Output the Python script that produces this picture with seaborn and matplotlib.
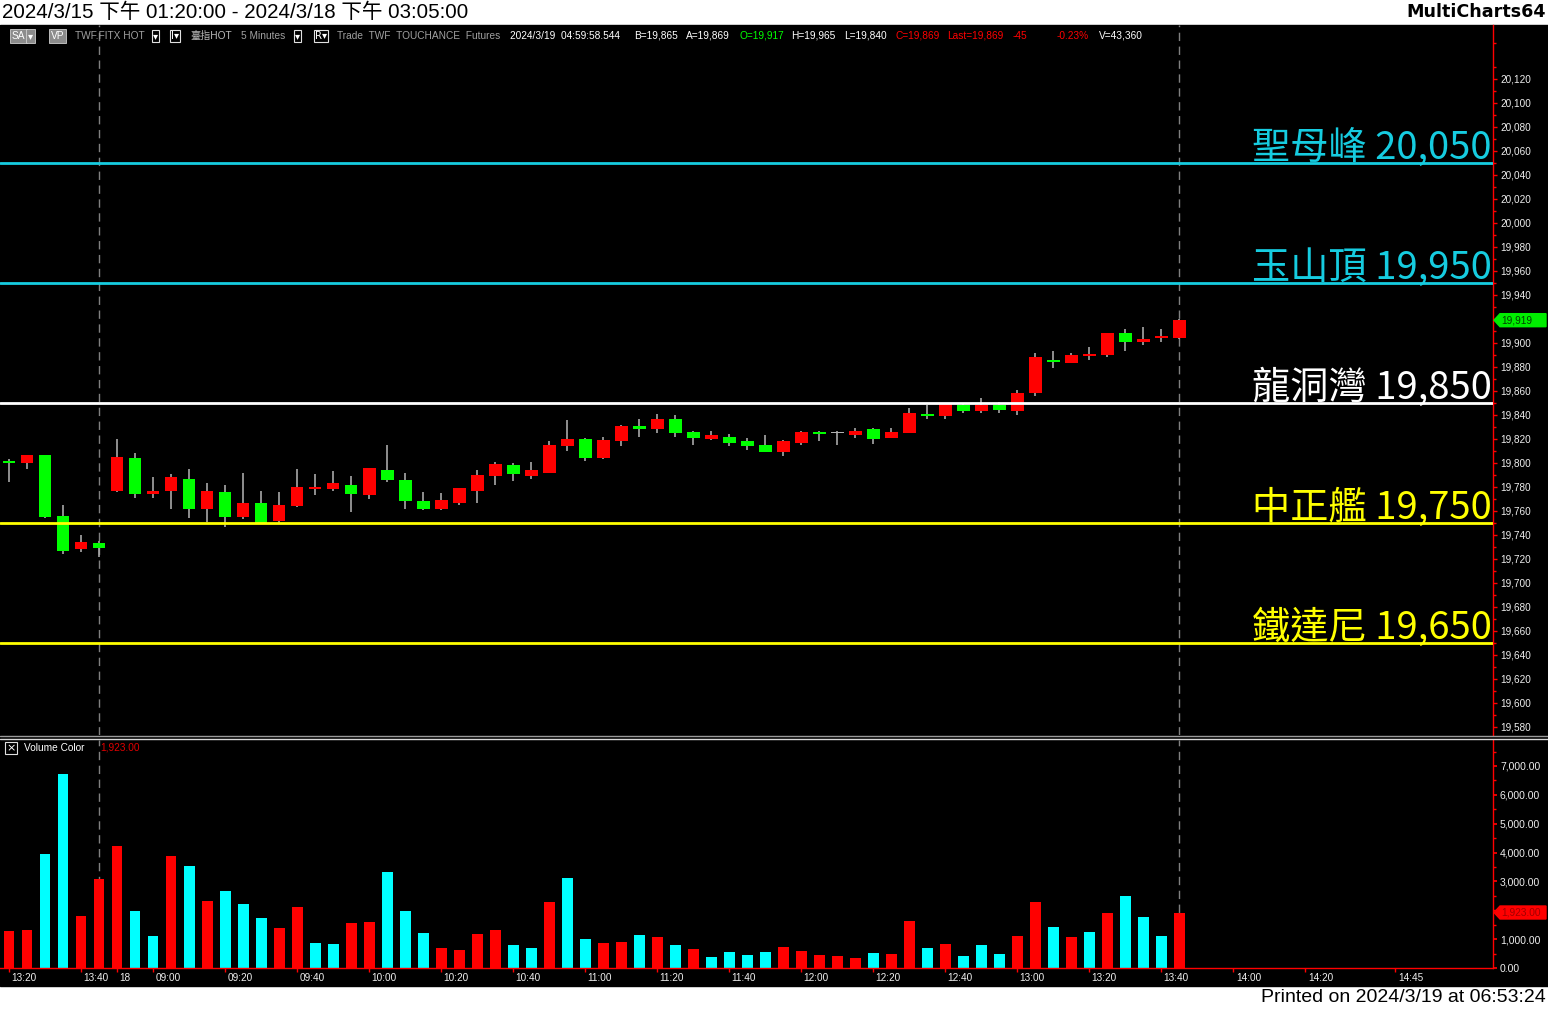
import numpy as np
import pandas as pd
import matplotlib
matplotlib.use("Agg")
import matplotlib.pyplot as plt
import matplotlib.transforms as mtransforms
from matplotlib.patches import Rectangle, Polygon
from matplotlib.lines import Line2D
import seaborn as sns

# 5-minute bars, 3/15 13:20 -> 3/18 13:45
opens = [19802, 19800, 19807, 19756, 19728, 19733, 19777, 19804, 19774, 19777,
         19787, 19762, 19776, 19755, 19767, 19752, 19764, 19778, 19778, 19782,
         19773, 19794, 19786, 19768, 19762, 19767, 19777, 19789, 19798, 19789,
         19792, 19814, 19820, 19804, 19818, 19831, 19828, 19837, 19826, 19820,
         19822, 19818, 19815, 19809, 19817, 19826, 19825, 19823, 19828, 19821,
         19825, 19841, 19839, 19848, 19843, 19848, 19843, 19858, 19886, 19883,
         19889, 19890, 19908, 19901, 19904, 19904]
highs = [19803, 19807, 19807, 19765, 19740, 19735, 19820, 19808, 19788, 19791,
         19795, 19783, 19782, 19792, 19777, 19776, 19795, 19791, 19793, 19789,
         19796, 19815, 19792, 19776, 19775, 19779, 19794, 19801, 19800, 19801,
         19818, 19836, 19821, 19822, 19832, 19837, 19841, 19840, 19827, 19827,
         19824, 19821, 19823, 19819, 19827, 19827, 19827, 19829, 19829, 19829,
         19846, 19848, 19849, 19849, 19854, 19851, 19861, 19892, 19893, 19892,
         19897, 19908, 19912, 19913, 19912, 19920]
lows = [19784, 19795, 19754, 19724, 19726, 19722, 19776, 19771, 19771, 19762,
        19754, 19751, 19747, 19753, 19749, 19750, 19763, 19773, 19777, 19759,
        19770, 19784, 19762, 19761, 19761, 19765, 19767, 19782, 19785, 19787,
        19792, 19810, 19802, 19803, 19814, 19822, 19825, 19822, 19815, 19819,
        19814, 19811, 19809, 19806, 19815, 19818, 19815, 19821, 19816, 19821,
        19825, 19837, 19837, 19842, 19842, 19842, 19840, 19856, 19879, 19883,
        19886, 19888, 19893, 19898, 19901, 19903]
closes = [19800, 19807, 19755, 19727, 19734, 19729, 19805, 19774, 19777, 19788,
          19762, 19777, 19755, 19767, 19750, 19765, 19780, 19780, 19783, 19774,
          19796, 19786, 19768, 19762, 19769, 19779, 19790, 19799, 19791, 19794,
          19815, 19820, 19804, 19819, 19831, 19828, 19837, 19825, 19821, 19823,
          19817, 19814, 19809, 19818, 19826, 19824, 19825, 19827, 19820, 19826,
          19842, 19839, 19849, 19843, 19848, 19844, 19858, 19888, 19884, 19890,
          19891, 19908, 19901, 19903, 19906, 19919]
volumes = [1276, 1311, 3933, 6727, 1794, 3070, 4243, 1966, 1104, 3864,
           3519, 2311, 2656, 2208, 1725, 1380, 2104, 863, 828, 1552,
           1587, 3312, 1966, 1207, 690, 621, 1173, 1311, 794, 690,
           2277, 3105, 1000, 863, 897, 1138, 1069, 794, 656, 380,
           552, 449, 552, 725, 587, 449, 414, 345, 518, 483,
           1622, 690, 828, 414, 794, 483, 1104, 2277, 1415, 1069,
           1242, 1898, 2484, 1760, 1104, 1923]
vol_dir = list("rrccrrrccrcrcccrrccrrcccrrrrccrccrrcrcrccccrrrrrcrrcrcccrrcrcrcccr")

levels = [20050, 19950, 19850, 19750, 19650]
level_names = ["聖母峰", "玉山頂", "龍洞灣", "中正艦", "鐵達尼"]
level_colors = ["#16cce0", "#16cce0", "#ffffff", "#ffff00", "#ffff00"]

tick_idx = [0, 4, 6, 8, 12, 16, 20, 24, 28, 32, 36, 40, 44, 48, 52, 56, 60, 64, 68, 72, 77]
tick_labels = ["13:20", "13:40", "18", "09:00", "09:20", "09:40", "10:00", "10:20",
               "10:40", "11:00", "11:20", "11:40", "12:00", "12:20", "12:40",
               "13:00", "13:20", "13:40", "14:00", "14:20", "14:45"]
session_breaks = [5, 65]

W, H = 1548, 1009

sns.set_theme(style="dark", rc={"axes.facecolor": "black", "figure.facecolor": "white",
                                "axes.grid": False})
plt.rcParams['font.family'] = ['Liberation Sans', 'Noto Sans CJK TC', 'DejaVu Sans']
plt.rcParams['axes.unicode_minus'] = False


def fx(x):
    return x / W


def fy(y):
    return 1 - y / H


def marker(y_px, text, fc, tc):
    # price tag with a left-pointing tip on the right axis
    pts = [(1494, y_px), (1500, y_px - 6.5), (1546, y_px - 6.5), (1546, y_px + 6.5), (1500, y_px + 6.5)]
    fig.add_artist(Polygon([(fx(a), fy(b)) for a, b in pts], closed=True, fc=fc, ec=fc,
                           transform=fig.transFigure, zorder=10))
    fig.text(fx(1501), fy(y_px), text, color=tc, fontsize=7.3, ha='left', va='center', zorder=11)


fig = plt.figure(figsize=(W / 100, H / 100), dpi=100, facecolor='white')
fig.add_artist(Rectangle((0, fy(986)), 1, fy(25) - fy(986), transform=fig.transFigure,
                         color='black', zorder=-10))

axp = fig.add_axes([0, fy(735), fx(1493), fy(25) - fy(735)])
axv = fig.add_axes([0, fy(968), fx(1493), fy(740) - fy(968)])

n = len(opens)
idx = np.arange(n)
o = np.array(opens); c = np.array(closes)
cols = np.where(c > o, '#ff0000', np.where(c < o, '#00ff00', '#b0b0b0'))
body_bottom = np.minimum(o, c)
body_h = np.maximum(np.abs(c - o), 1.0)

# price panel
axp.vlines(idx, lows, highs, color='#a8a8a8', lw=1.2, zorder=2)
axp.bar(idx, body_h, bottom=body_bottom, width=0.72, color=cols, linewidth=0, zorder=3)

for lv, name, col in zip(levels, level_names, level_colors):
    axp.axhline(lv, color=col, lw=2, zorder=4)
    axp.text(82.38, lv + 3.5, f"{name} {lv:,}", ha='right', va='baseline', fontsize=27.5,
             color=col, family=['Noto Sans CJK TC'], zorder=5)

for b in session_breaks:
    axp.axvline(b, color='#808080', lw=1, ls=(0, (6, 4)), zorder=1)
    axv.axvline(b, color='#808080', lw=1, ls=(0, (6, 4)), zorder=1)

axp.set_xlim(-0.5, 82.44)
axp.set_ylim(19573.3, 20165)
axp.set_xticks([])
axp.yaxis.tick_right()
axp.set_yticks(np.arange(19580, 20121, 20))
axp.set_yticklabels([f"{v:,}" for v in np.arange(19580, 20121, 20)])
axp.set_yticks(np.arange(19590, 20160, 20), minor=True)
axp.tick_params(axis='y', which='major', right=True, left=False, colors='red', length=3,
                width=1, labelcolor='#eeeeee', labelsize=7.2, pad=2)
axp.tick_params(axis='y', which='minor', right=True, left=False, colors='red', length=2)
for s in ['top', 'left', 'bottom']:
    axp.spines[s].set_visible(False)
axp.spines['right'].set_color('red')
axp.spines['right'].set_linewidth(1)

# volume panel
vdf = pd.DataFrame({'idx': idx, 'vol': volumes, 'dir': ['up' if d == 'r' else 'down' for d in vol_dir]})
sns.barplot(data=vdf, x='idx', y='vol', hue='dir', palette={'up': '#ff0000', 'down': '#00ffff'},
            native_scale=True, dodge=False, width=0.61, saturation=1, errorbar=None,
            legend=False, linewidth=0, ax=axv)
axv.set_xlabel('')
axv.set_ylabel('')
axv.set_xlim(-0.5, 82.44)
axv.set_ylim(0, 7900)
axv.yaxis.tick_right()
vt = [0, 1000, 3000, 4000, 5000, 6000, 7000]
axv.set_yticks(vt)
axv.set_yticklabels([f"{v:,.2f}" for v in vt])
axv.set_yticks(np.arange(500, 7900, 500), minor=True)
axv.tick_params(axis='y', which='major', right=True, left=False, colors='red', length=3,
                labelcolor='#eeeeee', labelsize=7.5, pad=2)
axv.tick_params(axis='y', which='minor', right=True, left=False, colors='red', length=2)
axv.set_xticks(tick_idx)
axv.set_xticklabels([''] * len(tick_idx))
axv.tick_params(axis='x', which='major', bottom=True, colors='red', length=3, width=1)
for s in ['top', 'left']:
    axv.spines[s].set_visible(False)
for s in ['right', 'bottom']:
    axv.spines[s].set_color('red')
    axv.spines[s].set_linewidth(1)

xt = mtransforms.blended_transform_factory(axv.transData, axv.transAxes)
for i, lab in zip(tick_idx, tick_labels):
    axv.text(i + 0.15, -0.044, lab, transform=xt, ha='left', va='center', fontsize=7.2,
             color='#f0f0f0', clip_on=False)

# last-value tags on the right axes
fig.canvas.draw()
yl = axp.transData.transform((0, closes[-1]))[1]
marker(H - yl, f"{closes[-1]:,}", '#00ee00', '#004000')
yv = axv.transData.transform((0, volumes[-1]))[1]
marker(H - yv, f"{volumes[-1]:,.2f}", '#ff0000', '#a00000')

# separator between panels
fig.add_artist(Line2D([0, 1], [fy(736), fy(736)], color='#9a9a9a', lw=1))
fig.add_artist(Line2D([0, 1], [fy(738.5), fy(738.5)], color='#d8d8d8', lw=1))

# header texts
fig.text(fx(2), fy(12), "2024/3/15 下午 01:20:00 - 2024/3/18 下午 03:05:00", fontsize=14.8,
         color='black', ha='left', va='center')
fig.text(fx(1546), fy(12), "MultiCharts64", fontsize=12.6, fontweight='bold', color='black',
         ha='right', va='center', family=['DejaVu Sans'])
fig.text(fx(1546), fy(997), "Printed on 2024/3/19 at 06:53:24", fontsize=14, color='black',
         ha='right', va='center')

hy = fy(36)
fs = 7.3
grey_box = dict(boxstyle='square,pad=0.15', fc='#8c8c8c', ec='#cfcfcf', lw=0.6)
line_box = dict(boxstyle='square,pad=0.12', fc='black', ec='#e0e0e0', lw=0.8)
fig.text(fx(12), hy, "SA", color='white', fontsize=fs, va='center', bbox=grey_box)
fig.text(fx(28), hy, "▾", color='white', fontsize=fs, va='center', bbox=grey_box,
         family=['DejaVu Sans'])
fig.text(fx(51), hy, "VP", color='white', fontsize=fs, va='center', bbox=grey_box)
header = [
    (75, "TWF.FITX HOT", '#a0a0a0'),
    (190, "臺指HOT", '#b8b8b8'),
    (241, "5 Minutes", '#a0a0a0'),
    (337, "Trade  TWF  TOUCHANCE  Futures", '#a0a0a0'),
    (510, "2024/3/19  04:59:58.544", '#ffffff'),
    (634, "B=19,865", '#ffffff'),
    (686, "A=19,869", '#ffffff'),
    (739, "O=19,917", '#00ff00'),
    (791, "H=19,965", '#ffffff'),
    (844, "L=19,840", '#ffffff'),
    (896, "C=19,869", '#ff0000'),
    (947, "Last=19,869", '#ff0000'),
    (1013, "-45", '#ff0000'),
    (1057, "-0.23%", '#ff0000'),
    (1099, "V=43,360", '#ffffff'),
]
for x, t, col in header:
    fig.text(fx(x), hy, t, color=col, fontsize=fs, va='center')
for x, t in [(153, "▾"), (171, "I▾"), (295, "▾"), (315, "R▾")]:
    fig.text(fx(x), hy, t, color='white', fontsize=fs, va='center', bbox=line_box,
             family=['DejaVu Sans'])

# volume panel caption
fig.text(fx(6), fy(748), "×", color='white', fontsize=8, va='center', bbox=line_box,
         family=['DejaVu Sans'])
fig.text(fx(24), fy(748), "Volume Color", color='white', fontsize=7.3, va='center')
fig.text(fx(100), fy(748), "1,923.00", color='#e00000', fontsize=7.3, va='center')

fig.savefig("out.png", dpi=100, facecolor='white')
